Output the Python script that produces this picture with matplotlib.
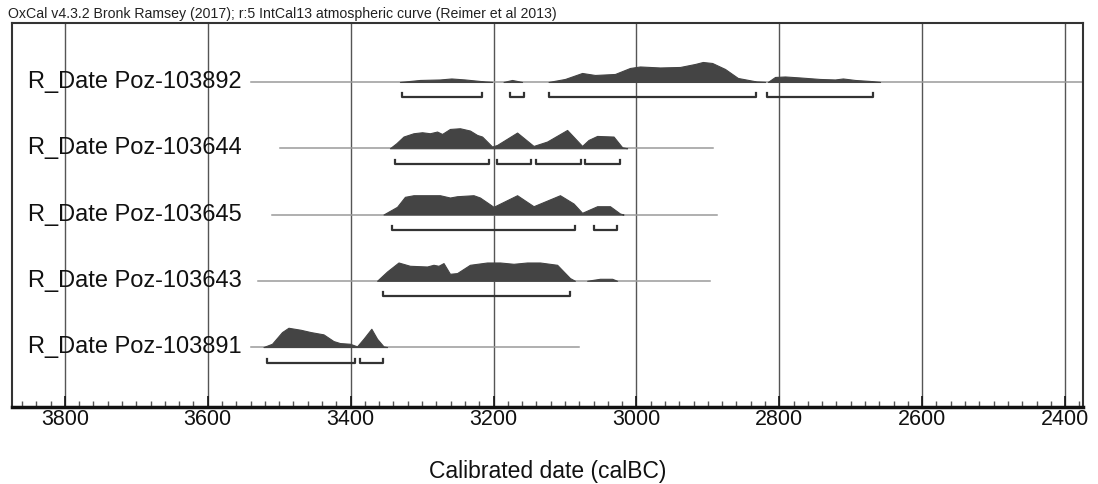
import numpy as np
import matplotlib
matplotlib.use('Agg')
import matplotlib.pyplot as plt
from matplotlib.ticker import MultipleLocator
import matplotlib.transforms as mtransforms

plt.rcParams['font.family'] = ['Liberation Sans', 'DejaVu Sans']

# sample names, top to bottom
names = ['R_Date Poz-103892', 'R_Date Poz-103644', 'R_Date Poz-103645',
         'R_Date Poz-103643', 'R_Date Poz-103891']

# probability curves: (calBC year, relative height)
curve_103892 = [
    [(3331, 0), (3303, 2), (3275, 2.5), (3259, 3.5), (3240, 2.5), (3212, 0.5), (3202, 0)],
    [(3186, 0), (3174, 2), (3160, 0)],
    [(3123, 0), (3100, 3), (3076, 9), (3058, 7), (3030, 8), (3009, 14), (2995, 15.5),
     (2967, 14.5), (2939, 15), (2918, 18), (2907, 20), (2894, 19), (2876, 13),
     (2858, 4), (2832, 0.5), (2820, 0)],
    [(2816, 0), (2806, 5), (2792, 5.5), (2771, 4.5), (2743, 3), (2722, 2.5),
     (2711, 3.5), (2694, 2), (2673, 1), (2659, 0)],
]
curve_103644 = [
    [(3345, 0), (3336, 5), (3326, 11.7), (3312, 15), (3300, 16), (3289, 15),
     (3279, 16.7), (3272, 14.3), (3261, 19.3), (3247, 20), (3233, 17.7),
     (3223, 13.3), (3216, 11.7), (3202, 1.7), (3195, 3.3), (3167, 15.7),
     (3144, 2.3), (3125, 6.7), (3097, 18.3), (3076, 2.3), (3067, 8.3),
     (3055, 12.3), (3032, 11.7), (3020, 1), (3013, 0)],
]
curve_103645 = [
    [(3354, 0), (3335, 7.7), (3324, 17.7), (3312, 19.3), (3275, 19.3), (3261, 17),
     (3251, 18.3), (3228, 19.3), (3219, 17), (3200, 7.7), (3167, 19.3),
     (3144, 8.3), (3107, 19.3), (3088, 11), (3076, 1.7), (3055, 8.3),
     (3037, 8.3), (3023, 1), (3018, 0)],
]
curve_103643 = [
    [(3363, 0), (3349, 9.3), (3333, 18.3), (3317, 15), (3293, 14.3), (3284, 16),
     (3277, 15), (3270, 17.7), (3261, 7), (3251, 7.7), (3233, 16), (3209, 18.3),
     (3191, 18.3), (3172, 17), (3153, 18.3), (3135, 18.3), (3111, 16),
     (3093, 2.7), (3086, 0)],
    [(3069, 0), (3051, 2), (3034, 2), (3027, 0)],
]
curve_103891 = [
    [(3522, 0), (3510, 3.3), (3496, 15), (3487, 19.3), (3470, 17.3), (3456, 15),
     (3438, 12.7), (3424, 6), (3415, 4), (3401, 3.3), (3391, 0.7), (3382, 8.3),
     (3371, 18.3), (3363, 8.3), (3354, 0.7), (3349, 0)],
]
curves = [curve_103892, curve_103644, curve_103645, curve_103643, curve_103891]

# 95.4% ranges (calBC)
ranges = [
    [(3328, 3216), (3177, 3157), (3123, 2832), (2817, 2669)],
    [(3338, 3207), (3195, 3147), (3140, 3077), (3072, 3023)],
    [(3342, 3086), (3060, 3027)],
    [(3354, 3093)],
    [(3517, 3394), (3387, 3354)],
]

# extent of the thin baseline for each date
spans = [(3540, 2375), (3499, 2893), (3510, 2887), (3529, 2897), (3540, 3081)]

title = 'OxCal v4.3.2 Bronk Ramsey (2017); r:5 IntCal13 atmospheric curve (Reimer et al 2013)'

fig = plt.figure(figsize=(10.98, 4.84), dpi=100)
ax = fig.add_axes([0.0109, 0.1597, 0.9754, 0.7928])

PX = 66.3  # pixels per row

for i in range(len(names)):
    y0 = -i
    ax.plot(spans[i], [y0, y0], color='#9a9a9a', lw=1.1, zorder=2)
    for seg in curves[i]:
        xs = [p[0] for p in seg]
        hs = [y0 + p[1] / PX for p in seg]
        ax.fill_between(xs, y0, hs, color='#444444', lw=0.8, edgecolor='#444444', zorder=3)
    yb = y0 - 15.5 / PX
    for a, b in ranges[i]:
        ax.plot([a, a, b, b], [yb + 4 / PX, yb, yb, yb + 4 / PX], color='#333333',
                lw=1.6, zorder=3, solid_joinstyle='round')
    trans = mtransforms.blended_transform_factory(ax.transAxes, ax.transData)
    ax.text(0.0149, y0, names[i], transform=trans, fontsize=17, va='center',
            ha='left', color='#111111', zorder=4)

for yr in range(2400, 3801, 200):
    ax.axvline(yr, color='#555555', lw=1.0, zorder=1)

ax.set_xlim(3874, 2375)
ax.set_ylim(-4.9, 0.89)
ax.set_yticks([])
ax.xaxis.set_major_locator(MultipleLocator(200))
ax.xaxis.set_minor_locator(MultipleLocator(20))
ax.tick_params(axis='x', which='major', direction='in', length=8, width=1.2,
               labelsize=15.5, pad=2, colors='#111111')
ax.tick_params(axis='x', which='minor', direction='in', length=4, width=1.0,
               colors='#555555')
for s in ['left', 'top', 'right']:
    ax.spines[s].set_color('#333333')
    ax.spines[s].set_linewidth(1.5)
ax.spines['bottom'].set_linewidth(2.5)
ax.spines['bottom'].set_color('#111111')

ax.set_xlabel('Calibrated date (calBC)', fontsize=16.5, labelpad=21, color='#111111')
fig.text(0.007, 0.971, title, fontsize=10.2, ha='left', va='center', color='#222222')

fig.savefig('out.png', dpi=100)
